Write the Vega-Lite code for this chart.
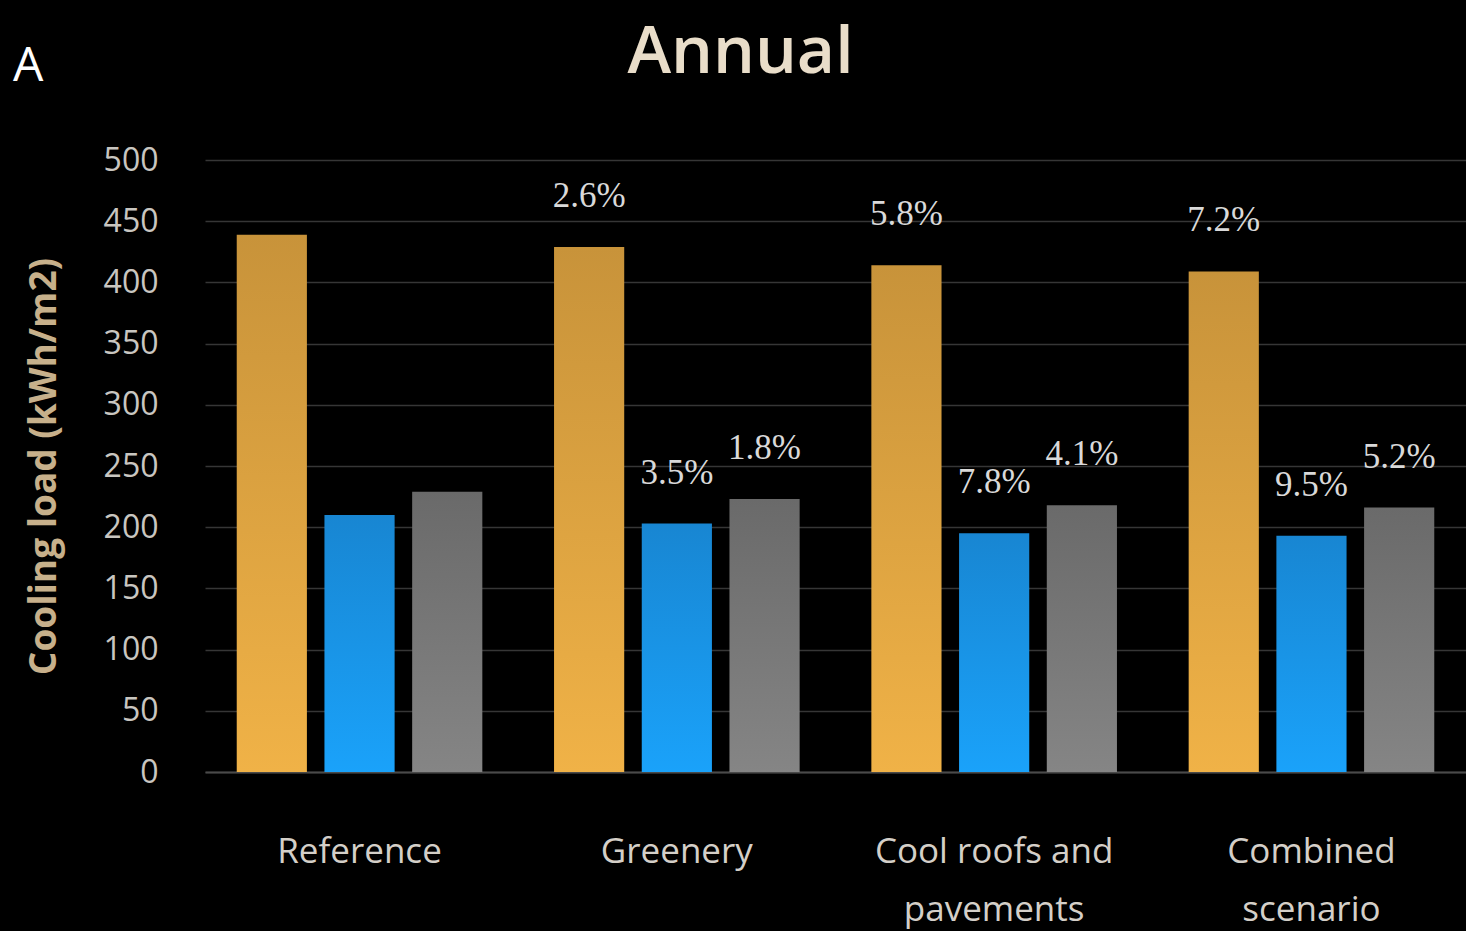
{
  "$schema": "https://vega.github.io/schema/vega-lite/v6.json",
  "width": 1261,
  "height": 612,
  "autosize": {"type": "none"},
  "padding": {"left": 205, "top": 160, "right": 0, "bottom": 159},
  "background": "#000000",
  "config": {"view": {"stroke": null}, "font": "Open Sans"},
  "title": {"text": "A", "anchor": "start", "frame": "bounds", "color": "#ffffff", "fontSize": 48, "fontWeight": "normal", "font": "Open Sans", "offset": 0, "dx": -12, "dy": 72},
  "data": {
    "values": [
      {"scenario": "Reference", "series": "Series 1", "load": 439, "pct": ""},
      {"scenario": "Reference", "series": "Series 2", "load": 210, "pct": ""},
      {"scenario": "Reference", "series": "Series 3", "load": 229, "pct": ""},
      {"scenario": "Greenery", "series": "Series 1", "load": 429, "pct": "2.6%"},
      {"scenario": "Greenery", "series": "Series 2", "load": 203, "pct": "3.5%"},
      {"scenario": "Greenery", "series": "Series 3", "load": 223, "pct": "1.8%"},
      {"scenario": "Cool roofs and pavements", "series": "Series 1", "load": 414, "pct": "5.8%"},
      {"scenario": "Cool roofs and pavements", "series": "Series 2", "load": 195, "pct": "7.8%"},
      {"scenario": "Cool roofs and pavements", "series": "Series 3", "load": 218, "pct": "4.1%"},
      {"scenario": "Combined scenario", "series": "Series 1", "load": 409, "pct": "7.2%"},
      {"scenario": "Combined scenario", "series": "Series 2", "load": 193, "pct": "9.5%"},
      {"scenario": "Combined scenario", "series": "Series 3", "load": 216, "pct": "5.2%"}
    ]
  },
  "encoding": {
    "x": {
      "field": "scenario", "type": "nominal",
      "sort": ["Reference", "Greenery", "Cool roofs and pavements", "Combined scenario"],
      "scale": {"paddingInner": 0.226, "paddingOuter": 0.1},
      "axis": {
        "orient": "bottom", "title": null, "ticks": false, "grid": false,
        "domain": true, "domainColor": "#4a4a4a", "domainWidth": 2,
        "labelAngle": 0, "labelFont": "Open Sans", "labelFontSize": 35, "labelColor": "#d4cfc8",
        "labelPadding": 62, "labelBaseline": "top", "labelLineHeight": 58, "labelAlign": "center", "labelLimit": 0,
        "labelExpr": "datum.value == 'Cool roofs and pavements' ? ['Cool roofs and', 'pavements'] : datum.value == 'Combined scenario' ? ['Combined', 'scenario'] : datum.value"
      }
    },
    "xOffset": {
      "field": "series", "type": "nominal",
      "scale": {"domain": ["Series 1", "Series 2", "Series 3"], "paddingInner": 0.2, "paddingOuter": 0}
    },
    "y": {
      "field": "load", "type": "quantitative",
      "scale": {"domain": [0, 500], "nice": false},
      "axis": {
        "title": "Cooling load (kWh/m2)", "titleFont": "Open Sans", "titleFontSize": 37, "titleFontWeight": "bold",
        "titleColor": "#c7b08b", "titlePadding": 40,
        "values": [0, 50, 100, 150, 200, 250, 300, 350, 400, 450, 500],
        "ticks": false, "domain": false,
        "grid": true, "gridColor": "#363636", "gridWidth": 1.5,
        "labelFont": "Open Sans", "labelFontSize": 32, "labelFontWeight": 500, "labelColor": "#c9c6c0", "labelPadding": 47
      }
    }
  },
  "layer": [
    {
      "transform": [{"filter": "datum.series == 'Series 1'"}],
      "mark": {"type": "bar", "color": {"gradient": "linear", "x1": 0, "y1": 0, "x2": 0, "y2": 1, "stops": [{"offset": 0, "color": "#c8933a"}, {"offset": 1, "color": "#f0b247"}]}}
    },
    {
      "transform": [{"filter": "datum.series == 'Series 2'"}],
      "mark": {"type": "bar", "color": {"gradient": "linear", "x1": 0, "y1": 0, "x2": 0, "y2": 1, "stops": [{"offset": 0, "color": "#1886d2"}, {"offset": 1, "color": "#1aa2fa"}]}},
      "encoding": {"x": {"field": "scenario", "type": "nominal", "sort": ["Reference", "Greenery", "Cool roofs and pavements", "Combined scenario"], "axis": null}}
    },
    {
      "transform": [{"filter": "datum.series == 'Series 3'"}],
      "mark": {"type": "bar", "color": {"gradient": "linear", "x1": 0, "y1": 0, "x2": 0, "y2": 1, "stops": [{"offset": 0, "color": "#6a6a6a"}, {"offset": 1, "color": "#858585"}]}},
      "encoding": {"x": {"field": "scenario", "type": "nominal", "sort": ["Reference", "Greenery", "Cool roofs and pavements", "Combined scenario"], "axis": null}}
    },
    {
      "mark": {"type": "text", "baseline": "alphabetic", "dy": -40, "font": "Liberation Serif", "fontSize": 35, "color": "#d9d9d9"},
      "encoding": {
        "text": {"field": "pct"},
        "x": {
          "field": "scenario", "type": "nominal",
          "sort": ["Reference", "Greenery", "Cool roofs and pavements", "Combined scenario"],
          "axis": {
            "orient": "top", "labels": false, "ticks": false, "domain": false, "grid": false,
            "title": "Annual", "titleFont": "Open Sans", "titleFontSize": 66, "titleFontWeight": 600,
            "titleColor": "#e9ddc9", "titleX": 535, "titleY": -88, "titleAlign": "center",
            "titleAnchor": null, "titleBaseline": "alphabetic", "titleAngle": 0
          }
        }
      }
    }
  ],
  "resolve": {"axis": {"x": "independent"}}
}
